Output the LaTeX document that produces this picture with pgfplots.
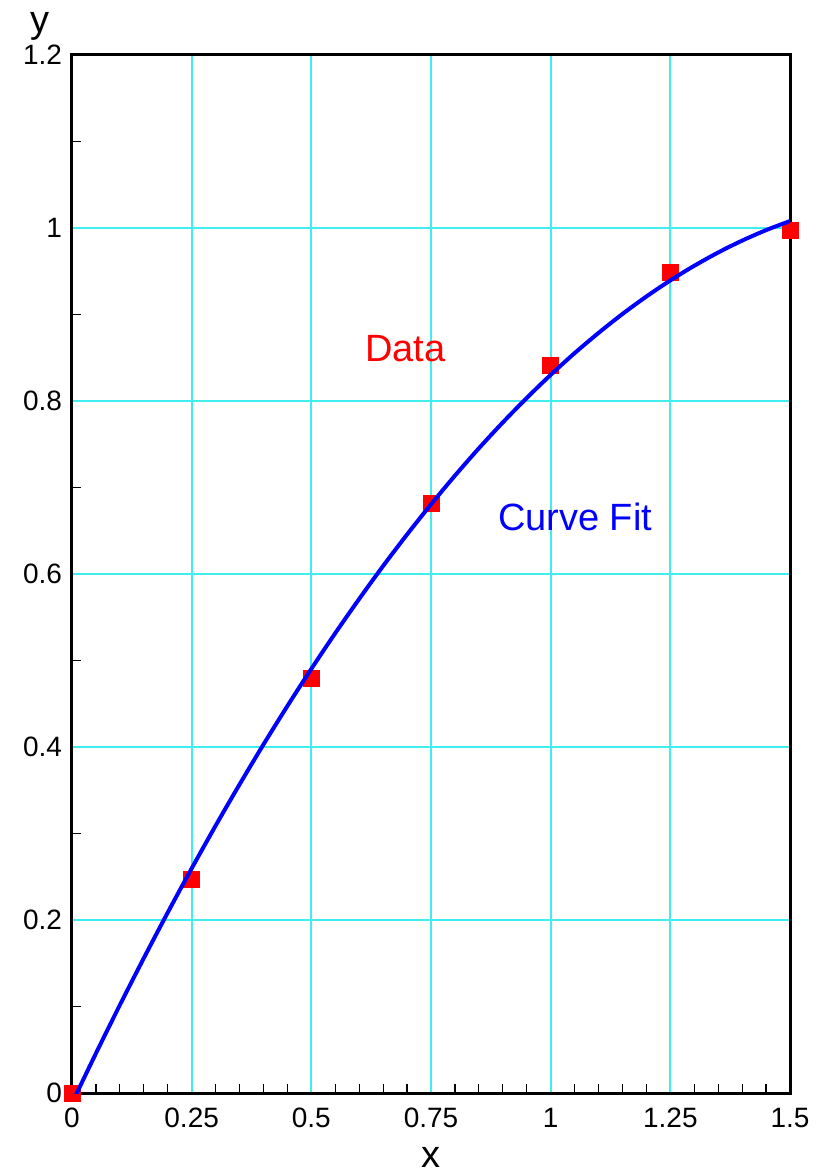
\documentclass[border=0pt]{standalone}
\usepackage{pgfplots}
\pgfplotsset{compat=1.18}
\usepackage{fontspec}
\setmainfont{Liberation Sans}
\definecolor{gridcyan}{RGB}{64,238,240}
\begin{document}
\begin{tikzpicture}
\begin{axis}[
  scale only axis,
  width=359pt, height=519pt,
  xmin=0, xmax=1.5, ymin=0, ymax=1.2,
  xtick={0,0.25,0.5,0.75,1,1.25,1.5},
  xticklabels={0,0.25,0.5,0.75,1,1.25,1.5},
  ytick={0,0.2,0.4,0.6,0.8,1,1.2},
  yticklabels={0,0.2,0.4,0.6,0.8,1,1.2},
  minor xtick={0.05,0.1,0.15,0.2,0.3,0.35,0.4,0.45,0.55,0.6,0.65,0.7,0.8,0.85,0.9,0.95,1.05,1.1,1.15,1.2,1.3,1.35,1.4,1.45},
  minor ytick={0.1,0.3,0.5,0.7,0.9,1.1},
  tick align=inside,
  major tick length=0pt,
  minor tick length=4.5pt,
  tick style={black, line width=0.6pt},
  xtick pos=bottom, ytick pos=left,
  xmajorgrids, ymajorgrids,
  major grid style={gridcyan, line width=0.9pt},
  axis line style={black, line width=1.5pt},
  ticklabel style={font=\fontsize{14}{16}\selectfont},
  /pgf/number format/assume math mode=true,
  xticklabel style={yshift=-4pt},
  yticklabel style={xshift=-1.5pt},
  clip mode=individual,
]
\addplot[only marks, mark=square*, mark size=4pt, color=red, mark options={draw=red, fill=red}]
coordinates {(0,0) (0.25,0.247) (0.5,0.479) (0.75,0.682) (1,0.841) (1.25,0.949) (1.5,0.997)};
\addplot[blue, line width=2pt, no marks, smooth]
coordinates {
(0,-0.0117) (0.05,0.0458) (0.1,0.1017) (0.15,0.1559) (0.2,0.2086) (0.25,0.2596)
(0.3,0.3090) (0.35,0.3567) (0.4,0.4029) (0.45,0.4474) (0.5,0.4903) (0.55,0.5316)
(0.6,0.5712) (0.65,0.6093) (0.7,0.6457) (0.75,0.6805) (0.8,0.7137) (0.85,0.7453)
(0.9,0.7752) (0.95,0.8035) (1.0,0.8302) (1.05,0.8553) (1.1,0.8787) (1.15,0.9006)
(1.2,0.9208) (1.25,0.9394) (1.3,0.9563) (1.35,0.9717) (1.4,0.9854) (1.45,0.9975)
(1.5,1.0080)};
\node[red, font=\fontsize{19}{21}\selectfont] at (axis cs:0.696,0.860) {Data};
\node[blue, font=\fontsize{19}{21}\selectfont] at (axis cs:1.051,0.666) {Curve Fit};
\node[font=\fontsize{19}{21}\selectfont, anchor=base] at (axis cs:0.75,0) [yshift=-37pt] {x};
\node[font=\fontsize{19}{21}\selectfont, anchor=base] at (rel axis cs:0,1) [xshift=-16pt, yshift=11pt] {y};
\coordinate (SW) at (rel axis cs:0,0);
\coordinate (NE) at (rel axis cs:1,1);
\end{axis}
\pgfresetboundingbox
\path ([xshift=-36pt, yshift=-41.5pt]SW) rectangle ([xshift=20.5pt, yshift=27.5pt]NE);
\end{tikzpicture}
\end{document}
